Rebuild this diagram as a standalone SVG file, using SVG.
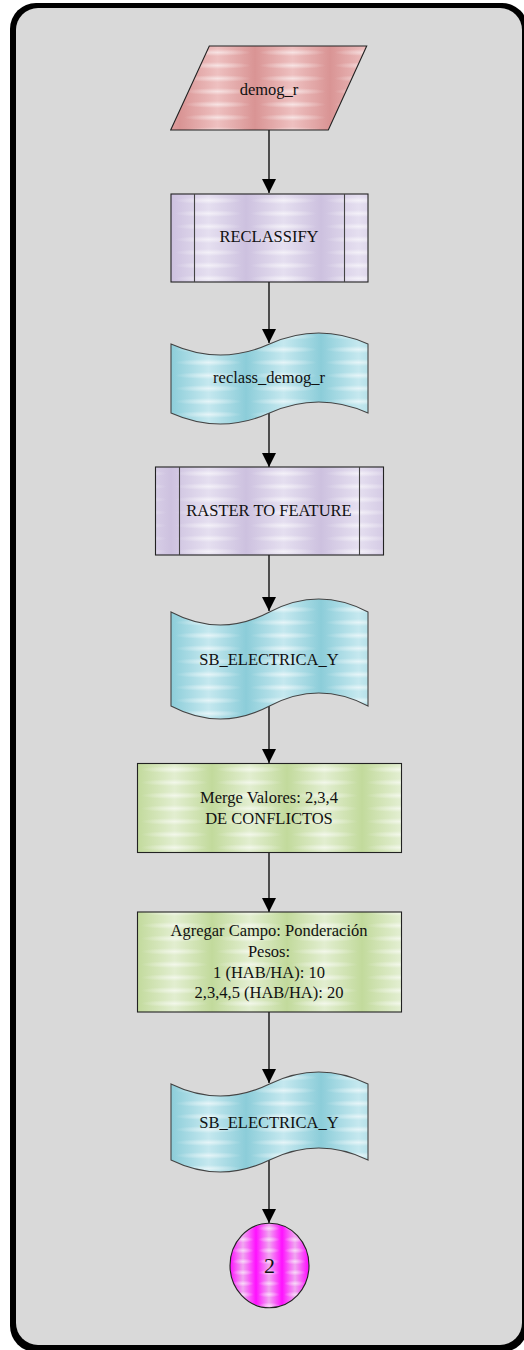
<svg xmlns="http://www.w3.org/2000/svg" width="524" height="1350" viewBox="0 0 524 1350">
<defs>
<style>
.lbl{font-family:"Liberation Serif","Times New Roman",serif;font-size:16.5px;fill:#111;text-anchor:middle}
.edge{stroke:#000;stroke-width:1.3;fill:none}
.bd{stroke:#222;stroke-width:1.1}
.wv{stroke:#444;stroke-width:1.1}
.in{stroke:#444;stroke-width:1.1}
</style>
<radialGradient id="hl" cx="0.5" cy="0.5" r="0.5">
<stop offset="0" stop-color="#fff" stop-opacity="0.55"/>
<stop offset="1" stop-color="#fff" stop-opacity="0"/>
</radialGradient>
<linearGradient id="gR" x1="0" y1="0" x2="1" y2="0"><stop offset="0" stop-color="#d99494"/><stop offset="0.5" stop-color="#eec0c0"/><stop offset="1" stop-color="#d99494"/></linearGradient>
<linearGradient id="gP" x1="0" y1="0" x2="1" y2="0"><stop offset="0" stop-color="#cdc1df"/><stop offset="0.5" stop-color="#e5dff0"/><stop offset="1" stop-color="#cdc1df"/></linearGradient>
<linearGradient id="gB" x1="0" y1="0" x2="1" y2="0"><stop offset="0" stop-color="#8ccdd9"/><stop offset="0.5" stop-color="#c5e8ef"/><stop offset="1" stop-color="#8ccdd9"/></linearGradient>
<linearGradient id="gG" x1="0" y1="0" x2="1" y2="0"><stop offset="0" stop-color="#c2da9c"/><stop offset="0.5" stop-color="#e2eed0"/><stop offset="1" stop-color="#c2da9c"/></linearGradient>
<linearGradient id="gM" x1="0" y1="0" x2="1" y2="0"><stop offset="0" stop-color="#ff10ff"/><stop offset="0.5" stop-color="#f0a8f0"/><stop offset="1" stop-color="#ff10ff"/></linearGradient>
<pattern id="pR" patternUnits="userSpaceOnUse" x="180" y="46" width="75" height="13"><rect width="75" height="13" fill="url(#gR)"/><ellipse cx="37.5" cy="6.5" rx="34" ry="3.5" fill="url(#hl)"/></pattern>
<pattern id="pP" patternUnits="userSpaceOnUse" x="171" y="194" width="75" height="13"><rect width="75" height="13" fill="url(#gP)"/><ellipse cx="37.5" cy="6.5" rx="34" ry="3.5" fill="url(#hl)"/></pattern>
<pattern id="pB" patternUnits="userSpaceOnUse" x="171" y="330" width="75" height="13"><rect width="75" height="13" fill="url(#gB)"/><ellipse cx="37.5" cy="6.5" rx="34" ry="3.5" fill="url(#hl)"/></pattern>
<pattern id="pG" patternUnits="userSpaceOnUse" x="137" y="763" width="75" height="13"><rect width="75" height="13" fill="url(#gG)"/><ellipse cx="37.5" cy="6.5" rx="34" ry="3.5" fill="url(#hl)"/></pattern>
<pattern id="pM" patternUnits="userSpaceOnUse" x="230" y="1223" width="26" height="11"><rect width="26" height="11" fill="url(#gM)"/><ellipse cx="13" cy="5.5" rx="11" ry="3" fill="url(#hl)"/></pattern>
<marker id="ah" markerWidth="14" markerHeight="14" refX="14" refY="7" orient="auto" markerUnits="userSpaceOnUse">
<path d="M0,0 L14,7 L0,14 Z" fill="#000"/>
</marker>
</defs>
<rect x="10" y="3" width="518" height="1349" rx="26" fill="#000"/>
<rect x="16" y="8" width="506" height="1337" rx="22" fill="#d9d9d9"/>
<g id="edges">
<line class="edge" x1="269" y1="130" x2="269" y2="193" marker-end="url(#ah)"/>
<line class="edge" x1="269" y1="282" x2="269" y2="343" marker-end="url(#ah)"/>
<line class="edge" x1="269" y1="413" x2="269" y2="467" marker-end="url(#ah)"/>
<line class="edge" x1="269" y1="555" x2="269" y2="611" marker-end="url(#ah)"/>
<line class="edge" x1="269" y1="706" x2="269" y2="763" marker-end="url(#ah)"/>
<line class="edge" x1="269" y1="852" x2="269" y2="912" marker-end="url(#ah)"/>
<line class="edge" x1="269" y1="1012" x2="269" y2="1083" marker-end="url(#ah)"/>
<line class="edge" x1="269" y1="1160" x2="269" y2="1223" marker-end="url(#ah)"/>
</g>
<g id="n1">
<polygon class="bd" points="209.3,46 366.7,46 328.3,130 170.7,130" fill="url(#pR)"/>
<text class="lbl" x="269" y="95">demog_r</text>
</g>
<g id="n2">
<rect class="bd" x="171" y="194" width="197" height="88" fill="url(#pP)"/>
<line class="in" x1="194.5" y1="194" x2="194.5" y2="282"/>
<line class="in" x1="344.5" y1="194" x2="344.5" y2="282"/>
<text class="lbl" x="269" y="242">RECLASSIFY</text>
</g>
<g id="n3">
<path class="wv" fill="url(#pB)" d="M171,344 Q220.25,366 269.5,344 T368,344 L368,413 Q318.75,391 269.5,413 T171,413 Z"/>
<text class="lbl" x="269" y="383">reclass_demog_r</text>
</g>
<g id="n4">
<rect class="bd" x="155.5" y="467" width="228" height="88" fill="url(#pP)"/>
<line class="in" x1="179.5" y1="467" x2="179.5" y2="555"/>
<line class="in" x1="359.5" y1="467" x2="359.5" y2="555"/>
<text class="lbl" x="269" y="516">RASTER TO FEATURE</text>
</g>
<g id="n5">
<path class="wv" fill="url(#pB)" d="M171,612 Q220.25,638 269.5,612 T368,612 L368,706 Q318.75,680 269.5,706 T171,706 Z"/>
<text class="lbl" x="269" y="665">SB_ELECTRICA_Y</text>
</g>
<g id="n6">
<rect class="bd" x="137.5" y="763.5" width="264" height="89" fill="url(#pG)"/>
<text class="lbl" x="269" y="803">Merge Valores: 2,3,4</text>
<text class="lbl" x="269" y="824">DE CONFLICTOS</text>
</g>
<g id="n7">
<rect class="bd" x="137.5" y="912" width="264" height="100" fill="url(#pG)"/>
<text class="lbl" x="269" y="936">Agregar Campo: Ponderación</text>
<text class="lbl" x="269" y="957">Pesos:</text>
<text class="lbl" x="269" y="977.5">1 (HAB/HA): 10</text>
<text class="lbl" x="269" y="998">2,3,4,5 (HAB/HA): 20</text>
</g>
<g id="n8">
<path class="wv" fill="url(#pB)" d="M171,1084 Q220.25,1108 269.5,1084 T368,1084 L368,1160 Q318.75,1136 269.5,1160 T171,1160 Z"/>
<text class="lbl" x="269" y="1128">SB_ELECTRICA_Y</text>
</g>
<g id="n9">
<ellipse class="bd" cx="269.5" cy="1265.5" rx="39.5" ry="42.3" fill="url(#pM)"/>
<text class="lbl" x="269.5" y="1273" style="font-size:22px">2</text>
</g>
</svg>
